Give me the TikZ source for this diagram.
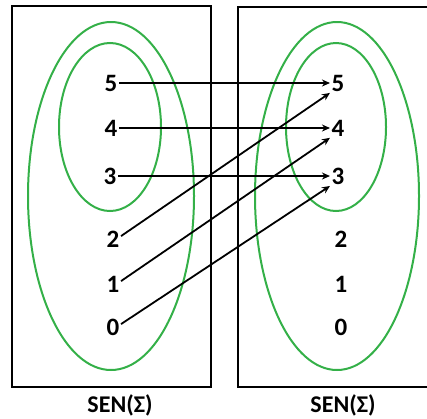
\documentclass[tikz,border=0pt]{standalone}
\usepackage{fontspec}
\setmainfont{Carlito}
\usetikzlibrary{arrows.meta}
\definecolor{setgreen}{RGB}{52,176,72}
\tikzset{
  frame/.style={draw=black, line width=2.2pt},
  setline/.style={draw=setgreen, line width=2pt},
  num/.style={font=\bfseries\fontsize{25}{25}\selectfont, inner sep=1.5pt},
  caption/.style={font=\bfseries\fontsize{24}{24}\selectfont, inner sep=0pt},
  arr/.style={draw=black, line width=1.8pt, -{Stealth[length=8pt,width=7pt]}}
}
\begin{document}
\begin{tikzpicture}[x=1pt,y=-1pt]
\useasboundingbox (0,0) rectangle (427,418);
% frames
\draw[frame] (12,6) rectangle (211,387);
\draw[frame] (428,7) -- (238,7) -- (238,387) -- (428,387);
% ellipses
\draw[setline] (111,196) ellipse [x radius=83, y radius=174];
\draw[setline] (110,127) ellipse [x radius=51, y radius=84];
\draw[setline] (337,196) ellipse [x radius=82, y radius=174];
\draw[setline] (336,127) ellipse [x radius=50, y radius=84];
% left labels
\node[num] (l5) at (111,83) {5};
\node[num] (l4) at (111,128) {4};
\node[num] (l3) at (110,176) {3};
\node[num] (l2) at (113,239) {2};
\node[num] (l1) at (113,284) {1};
\node[num] (l0) at (113,327) {0};
% right labels
\node[num] (r5) at (338,83) {5};
\node[num] (r4) at (338,128) {4};
\node[num] (r3) at (338,176) {3};
\node[num] (r2) at (341,239) {2};
\node[num] (r1) at (341,284) {1};
\node[num] (r0) at (341,327) {0};
% captions
\node[caption] (cl) at (120,405) {SEN(Σ)};
\node[caption] (cr) at (343,405) {SEN(Σ)};
% arrows
\draw[arr] (l5.east) -- (r5.west);
\draw[arr] (l4.east) -- (r4.west);
\draw[arr] (l3.east) -- (r3.west);
\draw[arr] (l2.20) -- (r5.south west);
\draw[arr] (l1.20) -- (r4.south west);
\draw[arr] (l0.20) -- (r3.south west);
\end{tikzpicture}
\end{document}
